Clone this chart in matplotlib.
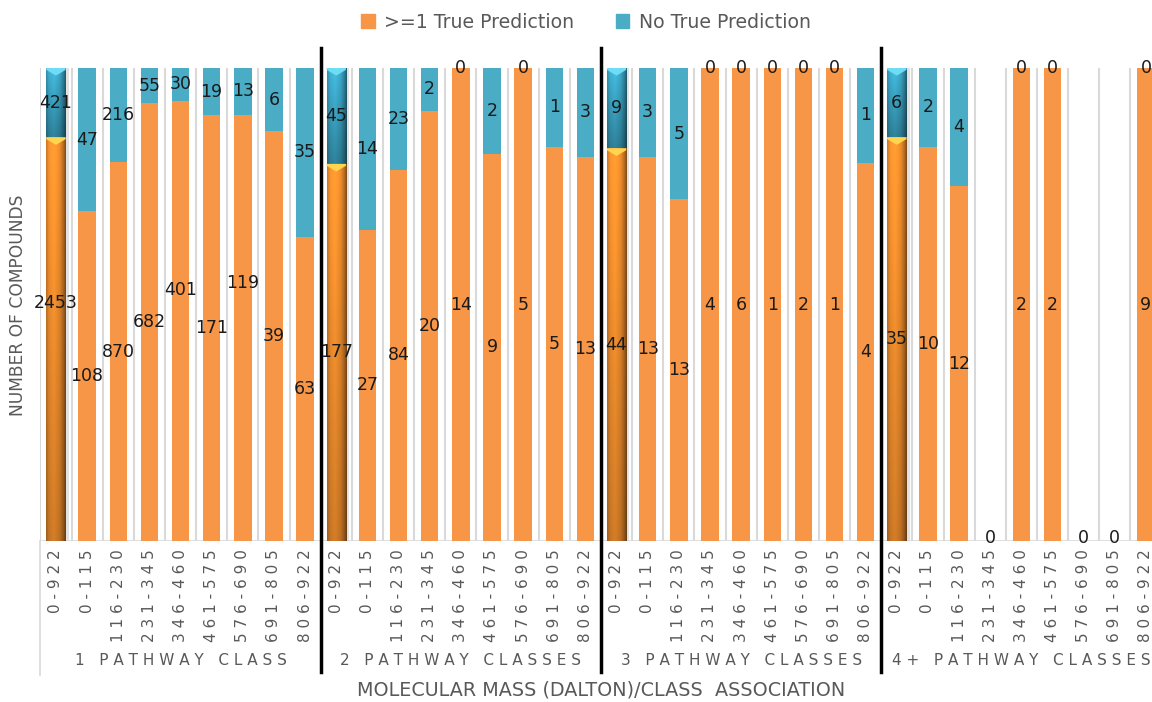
import numpy as np
import matplotlib.pyplot as plt
from matplotlib.patches import Polygon, Rectangle, Patch
from matplotlib.colors import to_rgb

plt.rcParams['font.family'] = ['DejaVu Sans']

mass_bins = ['0-922', '0-115', '116-230', '231-345', '346-460',
             '461-575', '576-690', '691-805', '806-922']
groups = ['1 PATHWAY CLASS', '2 PATHWAY CLASSES', '3 PATHWAY CLASSES', '4+ PATHWAY CLASSES']

# counts per (group, mass bin), group by group
true_pred = [2453, 108, 870, 682, 401, 171, 119, 39, 63,
             177, 27, 84, 20, 14, 9, 5, 5, 13,
             44, 13, 13, 4, 6, 1, 2, 1, 4,
             35, 10, 12, 0, 2, 2, 0, 0, 9]
no_true = [421, 47, 216, 55, 30, 19, 13, 6, 35,
           45, 14, 23, 2, 0, 2, 0, 1, 3,
           9, 3, 5, 0, 0, 0, 0, 0, 1,
           6, 2, 4, 0, 0, 0, 0, 0, 0]

# labels that were dragged off the segment centre in the original
label_shift = {0: 0.077, 4: 0.066, 6: 0.095}

ORANGE = '#F79646'
BLUE = '#4BACC6'
GRAY_TXT = '#595959'
LBL = 12.5

t = np.array(true_pred, dtype=float)
n = np.array(no_true, dtype=float)
tot = t + n
ft = np.divide(t, tot, out=np.zeros_like(t), where=tot > 0)
fn = np.divide(n, tot, out=np.zeros_like(n), where=tot > 0)

nb = len(mass_bins)
x = np.arange(len(true_pred))

fig = plt.figure(figsize=(11.52, 7.02), dpi=100)
W, H = 1152, 702
left_px, right_px, top_px, bot_px = 40.4, 1161.5, 68, 541
ax = fig.add_axes([left_px / W, 1 - bot_px / H, (right_px - left_px) / W, (bot_px - top_px) / H])


def cylinder(x0, y0, y1, w, base, vtop, vbot, cap):
    # shaded "3D" bar segment: horizontal cylinder shading times a vertical fade
    if y1 <= y0:
        return
    hx = np.interp(np.linspace(0, 1, 40), [0, 0.15, 0.4, 0.7, 0.9, 1], [0.8, 1.0, 1.08, 0.95, 0.7, 0.5])
    vy = np.linspace(vtop, vbot, 80)
    img = np.array(to_rgb(base))[None, None, :] * hx[None, :, None] * vy[:, None, None]
    ax.imshow(np.clip(img, 0, 1), extent=(x0 - w / 2, x0 + w / 2, y0, y1),
              aspect='auto', zorder=3, interpolation='bicubic')
    ax.add_patch(Polygon([(x0 - w / 2, y1), (x0 + w / 2, y1), (x0 + w / 2, y1 - 0.004),
                          (x0, y1 - 0.016), (x0 - w / 2, y1 - 0.004)],
                         closed=True, facecolor=cap, edgecolor='none', zorder=4))


bw, bw3d = 0.56, 0.62
for i in x:
    if i % nb == 0:
        ax.add_patch(Rectangle((i + bw3d / 2, 0), 0.1, 1, facecolor='#BFBFBF',
                               alpha=0.45, edgecolor='none', zorder=2))
        cylinder(i, 0, ft[i], bw3d, '#F7922E', 1.02, 0.8, '#FFD54F')
        cylinder(i, ft[i], ft[i] + fn[i], bw3d, '#3DAACB', 1.05, 0.72, '#6FDCF5')
    else:
        ax.bar(i, ft[i], width=bw, color=ORANGE, zorder=3)
        ax.bar(i, fn[i], bottom=ft[i], width=bw, color=BLUE, zorder=3)

# data labels at segment centres
for i in x:
    if tot[i] == 0:
        ax.text(i, 0.006, '0', ha='center', va='center', fontsize=LBL,
                color='#1A1A1A', zorder=6, clip_on=False)
        continue
    ax.text(i, ft[i] / 2 + label_shift.get(i, 0), f'{int(t[i])}', ha='center', va='center',
            fontsize=LBL, color='#1A1A1A', zorder=6, clip_on=False)
    ax.text(i, ft[i] + fn[i] / 2, f'{int(n[i])}', ha='center', va='center',
            fontsize=LBL, color='#1A1A1A', zorder=6, clip_on=False)

# light category gridlines
for b in np.arange(-0.5, len(x), 1.0):
    ax.plot([b, b], [0, 1], color='#D9D9D9', lw=1.5, zorder=1)
ax.plot([-0.5, -0.5], [0, -0.283], color='#D9D9D9', lw=1.2, clip_on=False)
ax.axhline(0, color='#D9D9D9', lw=1.2, zorder=2)

# group separators
for g in range(1, len(groups)):
    xs = g * nb - 0.5
    ax.plot([xs, xs], [-0.277, 1.042], color='black', lw=2.5, clip_on=False, zorder=7)

ax.set_xlim(-0.5, len(x) - 0.5)
ax.set_ylim(0, 1)
ax.set_xticks(x)
ax.set_xticklabels([' '.join(m) for m in mass_bins] * len(groups),
                   rotation=90, fontsize=11, color=GRAY_TXT)
ax.tick_params(axis='x', length=0, pad=6)
ax.set_yticks([])
for s in ax.spines.values():
    s.set_visible(False)

for g, name in enumerate(groups):
    ax.text(g * nb + (nb - 1) / 2, -0.2516, ' '.join(name), ha='center', va='center',
            fontsize=11, color=GRAY_TXT, clip_on=False)

fig.text(18 / W, 1 - 305 / H, 'NUMBER OF COMPOUNDS', rotation=90, ha='center', va='center',
         fontsize=12.3, color=GRAY_TXT)
fig.text(601 / W, 1 - 690 / H, 'MOLECULAR MASS (DALTON)/CLASS  ASSOCIATION', ha='center',
         va='center', fontsize=13.8, color=GRAY_TXT)

handles = [Patch(color=ORANGE, label='>=1 True Prediction'),
           Patch(color=BLUE, label='No True Prediction')]
leg = fig.legend(handles=handles, loc='center', bbox_to_anchor=(586 / W, 1 - 22 / H), ncol=2,
                 frameon=False, fontsize=13.6, handlelength=0.7, handleheight=0.7,
                 handletextpad=0.5, columnspacing=2.2)
for txt in leg.get_texts():
    txt.set_color(GRAY_TXT)

fig.savefig('out.png', dpi=100)
